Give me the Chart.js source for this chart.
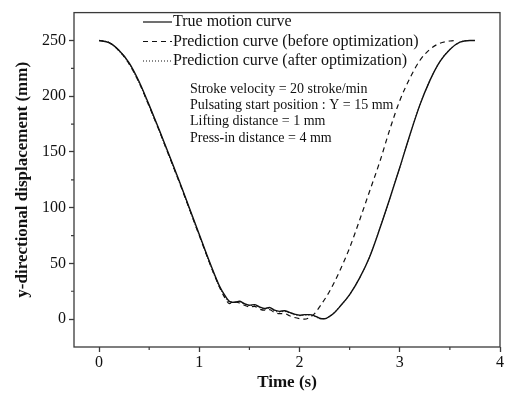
<!DOCTYPE html>
<html>
<head>
<meta charset="utf-8">
<script src="https://cdn.jsdelivr.net/npm/chart.js@4.4.1/dist/chart.umd.min.js"></script>
<style>
  html, body { margin: 0; padding: 0; background: #fff; }
  #wrap { width: 505px; height: 395px; }
</style>
</head>
<body>
<div id="wrap"><canvas id="motionChart" width="505" height="395"></canvas></div>
<script>
// True motion curve (time in s, y-displacement in mm)
const trueTime = [0, 0.1, 0.2, 0.3, 0.4, 0.5, 0.6, 0.7, 0.8, 0.9, 1.0, 1.1, 1.2, 1.25, 1.3, 1.35, 1.4, 1.45, 1.5, 1.55, 1.6, 1.65, 1.7, 1.75, 1.8, 1.85, 1.9, 1.95, 2.0, 2.05, 2.1, 2.15, 2.2, 2.25, 2.3, 2.35, 2.4, 2.5, 2.6, 2.7, 2.8, 2.9, 3.0, 3.1, 3.2, 3.3, 3.4, 3.5, 3.6, 3.7, 3.75];
const trueDisp = [250, 248, 241, 230, 213, 192, 170, 147, 124, 100, 76, 52, 30, 22, 16, 15, 16, 14, 12.5, 13, 11, 9.5, 10.5, 8, 7, 7.5, 6, 4.5, 3.5, 4, 4, 3, 0.8, 0.3, 2.5, 6, 11, 22, 37, 56, 81, 108, 136, 165, 192, 214, 231, 242, 248.5, 250, 250];

// Prediction curve (before optimization)
const beforeTime = [0, 0.1, 0.2, 0.3, 0.4, 0.5, 0.6, 0.7, 0.8, 0.9, 1.0, 1.1, 1.2, 1.25, 1.3, 1.35, 1.4, 1.45, 1.5, 1.55, 1.6, 1.65, 1.7, 1.75, 1.8, 1.85, 1.9, 1.95, 2.0, 2.05, 2.1, 2.15, 2.2, 2.3, 2.4, 2.5, 2.6, 2.7, 2.8, 2.9, 3.0, 3.1, 3.2, 3.3, 3.4, 3.5, 3.57];
const beforeDisp = [250, 248, 241, 229, 212, 191, 169, 146, 123, 99, 75, 51, 29, 20, 14, 15.5, 14.5, 12.5, 11, 11.5, 9, 8, 8.5, 6, 5, 5, 3, 1.5, 0.5, 0, 1.5, 5, 11, 25, 43, 64, 89, 115, 141, 170, 196, 216, 232, 242, 247.5, 249.5, 250];

// Prediction curve (after optimization)
const afterTime = [0, 0.1, 0.2, 0.3, 0.4, 0.5, 0.6, 0.7, 0.8, 0.9, 1.0, 1.1, 1.2, 1.25, 1.3, 1.35, 1.4, 1.45, 1.5, 1.55, 1.6, 1.65, 1.7, 1.75, 1.8, 1.85, 1.9, 1.95, 2.0, 2.05, 2.1, 2.15, 2.2, 2.25, 2.3, 2.35, 2.4, 2.5, 2.6, 2.7, 2.8, 2.9, 3.0, 3.1, 3.2, 3.3, 3.4, 3.5, 3.6, 3.7, 3.75];
const afterDisp = [250, 248, 240.5, 229, 212, 191, 169, 146, 123, 99, 75, 51, 29, 21, 15.5, 15.5, 15.5, 13.5, 12, 12.5, 10.5, 9, 10, 7.5, 6.5, 7, 5.5, 4, 3, 3.5, 3.5, 2.5, 0.5, 0.3, 2.5, 6, 11, 22, 37, 56, 81, 108, 136, 165, 192, 214, 231, 242, 248.5, 250, 250];

const seriesLabels = ['True motion curve', 'Prediction curve (before optimization)', 'Prediction curve (after optimization)'];
const notes = [
    'Stroke velocity = 20 stroke/min',
    'Pulsating start position : Y = 15 mm',
    'Lifting distance = 1 mm',
    'Press-in distance = 4 mm'
];

// tick values (major and minor)
const xTicks = [0, 1, 2, 3, 4];
const xMinorTicks = [0.5, 1.5, 2.5, 3.5];
const yTicks = [0, 50, 100, 150, 200, 250];
const yMinorTicks = [25, 75, 125, 175, 225];

const xTitle = 'Time (s)';
const yTitle = 'y-directional displacement (mm)';

const serif = "'Liberation Serif', 'Times New Roman', serif";

const toPoints = (xs, ys) => xs.map((x, i) => ({ x: x, y: ys[i] }));

// frame around the plot area + minor ticks
const framePlugin = {
    id: 'frame',
    afterDraw(chart) {
        const { ctx, chartArea: a, scales } = chart;
        ctx.save();
        ctx.strokeStyle = '#3a3a3a';
        ctx.lineWidth = 1.3;
        ctx.strokeRect(a.left, a.top, a.right - a.left, a.bottom - a.top);

        // minor ticks
        ctx.lineWidth = 1.2;
        ctx.beginPath();
        xMinorTicks.forEach(v => {
            const px = scales.x.getPixelForValue(v);
            ctx.moveTo(px, a.bottom);
            ctx.lineTo(px, a.bottom + 3);
        });
        yMinorTicks.forEach(v => {
            const py = scales.y.getPixelForValue(v);
            ctx.moveTo(a.left, py);
            ctx.lineTo(a.left - 3, py);
        });
        ctx.stroke();
        ctx.restore();
    }
};

// legend and note text drawn inside the plot
const legendPlugin = {
    id: 'innerLegend',
    afterDatasetsDraw(chart) {
        const { ctx } = chart;
        ctx.save();
        ctx.font = '16px ' + serif;
        ctx.fillStyle = '#111';
        ctx.textBaseline = 'middle';
        const rows = [22, 41.5, 61];
        chart.data.datasets.forEach((ds, i) => {
            const y = rows[i];
            ctx.strokeStyle = '#111';
            ctx.lineWidth = 1.2;
            ctx.setLineDash(ds.borderDash || []);
            ctx.beginPath();
            ctx.moveTo(143, y);
            ctx.lineTo(172, y);
            ctx.stroke();
            ctx.setLineDash([]);
            ctx.fillText(ds.label, 173, y);
        });

        ctx.font = '14px ' + serif;
        notes.forEach((line, i) => {
            ctx.fillText(line, 190, 89 + i * 16.3);
        });
        ctx.restore();
    }
};

const ctx = document.getElementById('motionChart').getContext('2d');

new Chart(ctx, {
    type: 'line',
    data: {
        datasets: [
            {
                label: seriesLabels[0],
                data: toPoints(trueTime, trueDisp),
                borderColor: '#111',
                borderWidth: 1.4,
                borderDash: [],
                pointRadius: 0,
                cubicInterpolationMode: 'monotone'
            },
            {
                label: seriesLabels[1],
                data: toPoints(beforeTime, beforeDisp),
                borderColor: '#111',
                borderWidth: 1.2,
                borderDash: [5, 4],
                pointRadius: 0,
                cubicInterpolationMode: 'monotone'
            },
            {
                label: seriesLabels[2],
                data: toPoints(afterTime, afterDisp),
                borderColor: '#333',
                borderWidth: 1.1,
                borderDash: [1, 2],
                pointRadius: 0,
                cubicInterpolationMode: 'monotone'
            }
        ]
    },
    options: {
        responsive: false,
        animation: false,
        layout: { padding: { top: 6, right: 4, left: 0, bottom: 0 } },
        plugins: {
            legend: { display: false },
            tooltip: { enabled: false }
        },
        scales: {
            x: {
                type: 'linear',
                min: -0.25,
                max: 4,
                afterFit: (scale) => { scale.height = 48; },
                afterBuildTicks: (scale) => { scale.ticks = xTicks.map(v => ({ value: v })); },
                ticks: {
                    padding: 1,
                    color: '#111',
                    font: { family: serif, size: 16 },
                    maxRotation: 0,
                    autoSkip: false
                },
                grid: {
                    drawOnChartArea: false,
                    tickLength: 5,
                    tickColor: '#3a3a3a',
                    tickWidth: 1.3
                },
                border: { display: false },
                title: {
                    display: true,
                    text: xTitle,
                    color: '#111',
                    font: { family: serif, size: 17, weight: 'bold', lineHeight: 1.2 },
                    padding: { top: 0, bottom: 2 }
                }
            },
            y: {
                min: -25,
                max: 275,
                afterFit: (scale) => { scale.width = 74; },
                afterBuildTicks: (scale) => { scale.ticks = yTicks.map(v => ({ value: v })); },
                ticks: {
                    padding: 3,
                    color: '#111',
                    font: { family: serif, size: 16 },
                    autoSkip: false
                },
                grid: {
                    drawOnChartArea: false,
                    tickLength: 5,
                    tickColor: '#3a3a3a',
                    tickWidth: 1.3
                },
                border: { display: false },
                title: {
                    display: true,
                    text: yTitle,
                    color: '#111',
                    font: { family: serif, size: 17, weight: 'bold', lineHeight: 1.2 },
                    padding: { top: 12, bottom: 0 }
                }
            }
        }
    },
    plugins: [framePlugin, legendPlugin]
});
</script>
</body>
</html>
